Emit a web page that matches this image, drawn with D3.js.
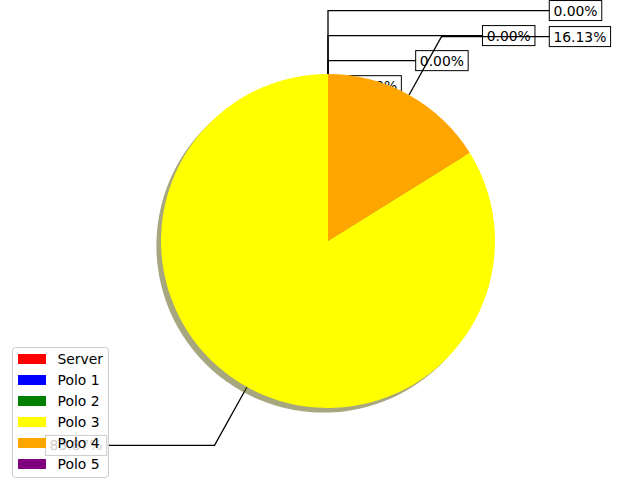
<!DOCTYPE html>
<html>
<head>
<meta charset="utf-8">
<script src="https://cdn.jsdelivr.net/npm/d3@7"></script>
<style>
  body { margin: 0; background: #fff; }
  svg { display: block; font-family: "DejaVu Sans", sans-serif; }
</style>
</head>
<body>
<div id="chart"></div>
<script>
// slice data (percent of total), drawn counterclockwise from 12 o'clock
const labels = ['Server', 'Polo 1', 'Polo 2', 'Polo 3', 'Polo 4', 'Polo 5'];
const values = [0, 0, 0, 83.87, 16.13, 0];
const colors = ['red', 'blue', 'green', 'yellow', 'orange', 'purple'];

const width = 640, height = 480;
const cx = 328, cy = 241, radius = 167;
const fontSize = 13.9;
const pad = 0.3 * fontSize;

const svg = d3.select('#chart').append('svg')
  .attr('width', width)
  .attr('height', height);

// data units (pie radius = 1) -> pixels
const sx = d3.scaleLinear().domain([-1, 1]).range([cx - radius, cx + radius]);
const sy = d3.scaleLinear().domain([-1, 1]).range([cy + radius, cy - radius]);

const data = labels.map((name, i) => ({ name, value: values[i], color: colors[i] }));

const pie = d3.pie()
  .sort(null)
  .value(d => d.value)
  .startAngle(0)
  .endAngle(-2 * Math.PI); // counterclockwise like matplotlib

const slices = pie(data);
const arc = d3.arc().innerRadius(0).outerRadius(radius);

// annotations sit underneath the pie (zorder 0 in the original)
const annoLayer = svg.append('g');
const shadowLayer = svg.append('g').attr('transform', `translate(${cx - 4.6},${cy + 4.6})`);
const pieLayer = svg.append('g').attr('transform', `translate(${cx},${cy})`);

// work out where each label goes
let zeroCount = 0;
slices.forEach(s => {
  const a = (s.startAngle + s.endAngle) / 2;
  s.px = Math.sin(a);
  s.py = Math.cos(a);
  s.ang = a;
  if (s.data.value === 0) {
    // stack the empty slices' labels so they don't sit on each other
    s.tx = 1.35 - 0.4 * zeroCount;
    s.ty = 1.38 - 0.15 * zeroCount;
    s.align = 'start';
    zeroCount++;
  } else {
    const sign = s.px >= 0 ? 1 : -1;
    s.tx = 1.35 * sign;
    s.ty = 1.4 * s.py;
    s.align = sign > 0 ? 'start' : 'end';
  }
});

const total = d3.sum(values);

slices.forEach(s => {
  const g = annoLayer.append('g');
  const tx = sx(s.tx), ty = sy(s.ty);

  const txt = g.append('text')
    .attr('x', tx)
    .attr('y', ty)
    .attr('dy', '0.36em')
    .attr('text-anchor', s.align)
    .style('font-size', fontSize + 'px')
    .style('fill', '#000')
    .text((s.data.value / total * 100).toFixed(2) + '%');

  const w = txt.node().getComputedTextLength();
  const bx = s.align === 'start' ? tx - pad : tx - w - pad;
  const bh = 0.84 * fontSize + 2 * pad;

  // leader line: from wedge edge along its angle, then flat to the box
  const p0 = [sx(s.px), sy(s.py)];
  const t = (s.ty - s.py) / Math.cos(s.ang);
  const corner = [sx(s.px + t * Math.sin(s.ang)), ty];
  const end = [s.align === 'start' ? bx : bx + w + 2 * pad, ty];

  g.insert('rect', 'text')
    .attr('x', bx)
    .attr('y', ty - bh / 2)
    .attr('width', w + 2 * pad)
    .attr('height', bh)
    .attr('fill', '#fff')
    .attr('stroke', '#000')
    .attr('stroke-width', 1);

  g.insert('path', 'rect')
    .attr('d', d3.line()([p0, corner, end]))
    .attr('fill', 'none')
    .attr('stroke', '#000')
    .attr('stroke-width', 1.3);
});

// shadow: darker copy of each wedge, half transparent
shadowLayer.selectAll('path')
  .data(slices.filter(d => d.data.value > 0))
  .enter()
  .append('path')
  .attr('d', arc)
  .attr('fill', d => {
    const c = d3.rgb(d.data.color);
    return d3.rgb(c.r * 0.3, c.g * 0.3, c.b * 0.3);
  })
  .attr('fill-opacity', 0.5);

pieLayer.selectAll('path')
  .data(slices.filter(d => d.data.value > 0))
  .enter()
  .append('path')
  .attr('d', arc)
  .attr('fill', d => d.data.color);

// legend, lower left
const legend = svg.append('g');
const lx = 12.5, ly = 347.5, rowH = 21;

legend.append('rect')
  .attr('x', lx)
  .attr('y', ly)
  .attr('width', 96)
  .attr('height', 130)
  .attr('rx', 3)
  .attr('fill', '#fff')
  .attr('fill-opacity', 0.8)
  .attr('stroke', '#cccccc')
  .attr('stroke-width', 1);

const rows = legend.selectAll('g.row')
  .data(data)
  .enter()
  .append('g')
  .attr('class', 'row')
  .attr('transform', (d, i) => `translate(0,${359 + i * rowH})`);

rows.append('rect')
  .attr('x', 18)
  .attr('y', -5)
  .attr('width', 28)
  .attr('height', 10)
  .attr('fill', d => d.color);

rows.append('text')
  .attr('x', 57.5)
  .attr('y', 0)
  .attr('dy', '0.36em')
  .style('font-size', fontSize + 'px')
  .style('fill', '#000')
  .text(d => d.name);
</script>
</body>
</html>
